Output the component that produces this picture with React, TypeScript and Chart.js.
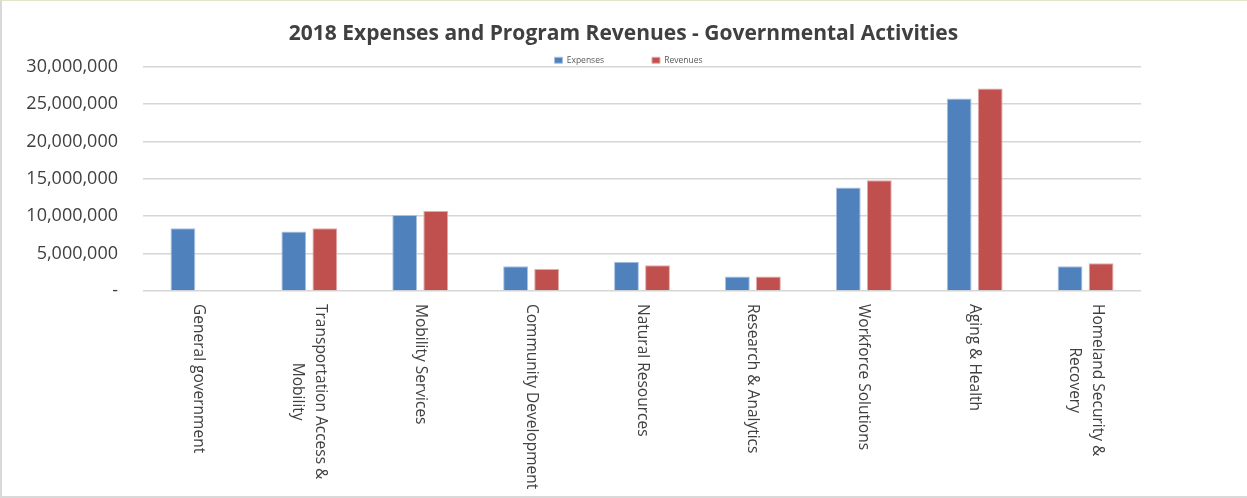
import React, { useEffect, useRef } from "react";
import { Chart, registerables } from "chart.js";

Chart.register(...registerables);

const titleText = "2018 Expenses and Program Revenues - Governmental Activities";
const categories: (string | string[])[] = [
  "General government",
  ["Transportation Access &", "Mobility"],
  "Mobility Services",
  "Community Development",
  "Natural Resources",
  "Research & Analytics",
  "Workforce Solutions",
  "Aging & Health",
  ["Homeland Security &", "Recovery"],
];
const expenses = [8400000, 7950000, 10150000, 3300000, 3900000, 1950000, 13850000, 25750000, 3300000];
const revenues = [0, 8400000, 10700000, 2950000, 3450000, 1950000, 14800000, 27100000, 3700000];
const yTicksMax = 30000000;
const yTickStep = 5000000;

const TEXT = "#404040";
const FONT = "'Open Sans', 'Noto Sans', sans-serif";

const titlePlugin = {
  id: "customTitle",
  afterDraw(chart: any) {
    const { ctx, width } = chart;
    ctx.save();
    ctx.fillStyle = TEXT;
    ctx.font = `bold 21px ${FONT}`;
    ctx.textAlign = "center";
    ctx.textBaseline = "alphabetic";
    ctx.fillText(titleText, width / 2, 39);
    ctx.restore();
  },
};

const xLabelPlugin = {
  id: "xLabelsRotated",
  afterDraw(chart: any) {
    const { ctx, chartArea } = chart;
    const xScale = chart.scales.x;
    ctx.save();
    ctx.fillStyle = TEXT;
    ctx.font = `15.5px ${FONT}`;
    const lineH = 23;
    categories.forEach((lab, i) => {
      const lines = Array.isArray(lab) ? lab : [lab];
      const x = xScale.getPixelForValue(i);
      const y = chartArea.bottom + 13;
      const maxW = Math.max(...lines.map((l) => ctx.measureText(l).width));
      ctx.save();
      ctx.translate(x, y);
      ctx.rotate(Math.PI / 2);
      ctx.textAlign = "center";
      ctx.textBaseline = "middle";
      lines.forEach((l, j) => {
        const off = (j - (lines.length - 1) / 2) * lineH;
        ctx.fillText(l, maxW / 2, off);
      });
      ctx.restore();
    });
    ctx.restore();
  },
};

export default function App() {
  const ref = useRef<HTMLCanvasElement | null>(null);
  useEffect(() => {
    document.body.style.margin = "0";
    const chart = new Chart(ref.current as HTMLCanvasElement, {
      type: "bar",
      data: {
        labels: categories.map((c) => (Array.isArray(c) ? c.join(" ") : c)),
        datasets: [
          {
            label: "Expenses",
            data: expenses,
            backgroundColor: "#4f81bd",
            borderColor: "#a9c1e0",
            borderWidth: 1,
            categoryPercentage: 0.56,
            barPercentage: 0.8,
          },
          {
            label: "Revenues",
            data: revenues,
            backgroundColor: "#c0504d",
            borderColor: "#e2abaa",
            borderWidth: 1,
            categoryPercentage: 0.56,
            barPercentage: 0.8,
          },
        ],
      },
      options: {
        animation: false,
        responsive: false,
        maintainAspectRatio: false,
        layout: { padding: { left: 10, right: 0, top: 7, bottom: 0 } },
        plugins: {
          title: { display: false },
          legend: {
            display: true,
            maxHeight: 58.7,
            labels: {
              color: "#595959",
              font: { family: FONT, size: 8.5 },
              boxWidth: 8,
              boxHeight: 6,
              padding: 48,
            },
          },
          tooltip: { enabled: false },
        },
        scales: {
          x: {
            grid: { display: false },
            border: { display: false },
            ticks: { display: false },
            afterFit(scale: any) {
              scale.height = 205;
            },
          },
          y: {
            min: 0,
            max: yTicksMax,
            grid: { color: "#d6d6d6", lineWidth: 1.6, drawTicks: false },
            border: { display: false },
            ticks: {
              stepSize: yTickStep,
              color: TEXT,
              padding: 25,
              font: { family: FONT, size: 18 },
              callback: (v: any) => (Number(v) === 0 ? "-" : Number(v).toLocaleString("en-US")),
            },
            afterFit(scale: any) {
              scale.width = 131;
            },
          },
          yRight: {
            type: "linear",
            position: "right",
            display: true,
            grid: { display: false, drawTicks: false },
            border: { display: false },
            ticks: { display: false },
            afterFit(scale: any) {
              scale.width = 104;
            },
          },
        },
      },
      plugins: [titlePlugin, xLabelPlugin],
    });
    return () => chart.destroy();
  }, []);
  return (
    <div
      style={{
        position: "absolute",
        left: 0,
        top: 0,
        width: 1247,
        height: 498,
        boxSizing: "border-box",
        borderLeft: "2px solid #d9d9d9",
        borderTop: "1px solid #e3e6c4",
        borderBottom: "2px solid #d9d9d9",
        background: "#fff",
      }}
    >
      <canvas ref={ref} width={1243} height={495} style={{ display: "block" }} />
    </div>
  );
}
